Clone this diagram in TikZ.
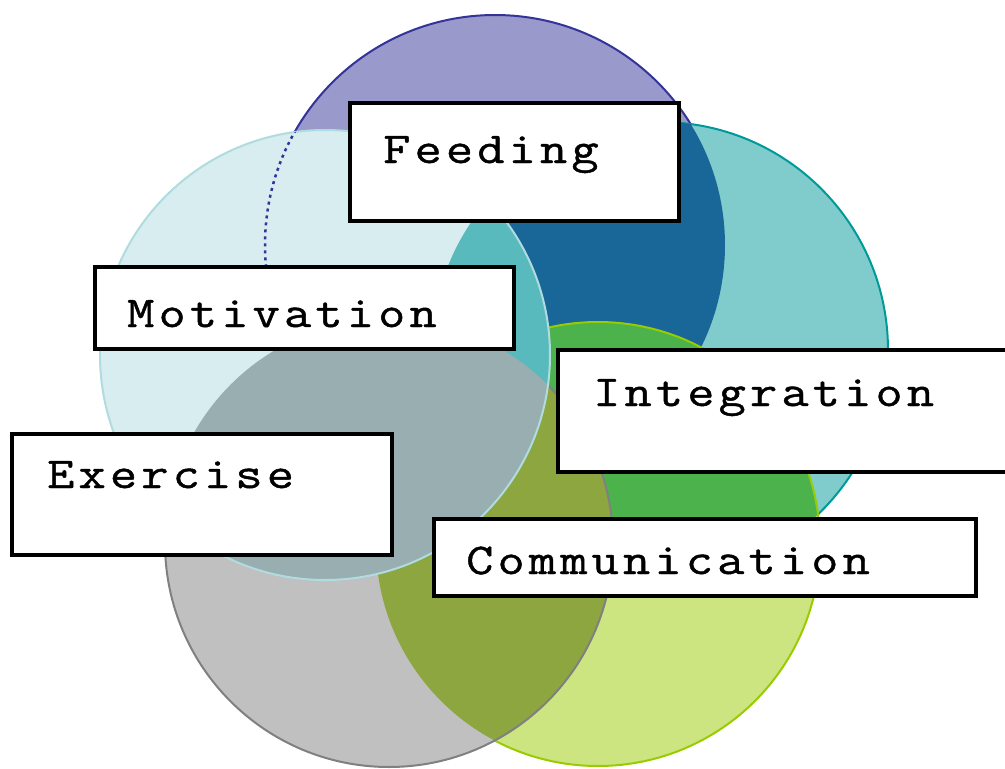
\documentclass[tikz,border=0pt]{standalone}
\usepackage{fontspec}
\newfontfamily\labelfont[FakeStretch=1.2,FakeBold=1,LetterSpace=9.5]{Latin Modern Mono}
\usepackage{tikz}

\definecolor{feedblue}{RGB}{51,51,153}
\definecolor{motblue}{RGB}{176,220,224}
\definecolor{intteal}{RGB}{0,153,153}
\definecolor{exegray}{RGB}{128,128,128}
\definecolor{comgreen}{RGB}{153,204,0}

\begin{document}
\begin{tikzpicture}[x=1pt,y=-1pt,
  ring/.style={line width=2pt},
  box/.style={draw,fill=white,line width=4pt,inner sep=0pt,outer sep=0pt,anchor=north west},
  boxtext/.style={anchor=base west,inner sep=0pt,font=\labelfont\fontsize{44}{44}\selectfont}]
\useasboundingbox (0,0) rectangle (1005,769);

% centres of the five discs
\coordinate (feed) at (495,245);
\coordinate (mot)  at (325,355);
\coordinate (int)  at (660,350);
\coordinate (exe)  at (389,543);
\coordinate (com)  at (598,544);

% feeding lies underneath everything
\fill[feedblue!50!white] (feed) circle (230pt);
\draw[ring,feedblue] (feed) circle (230pt);

\fill[intteal!50!white] (int) circle (228pt);
\draw[ring,intteal] (int) circle (228pt);
\fill[comgreen!50!white] (com) circle (222pt);

\begin{scope} \clip (feed) circle (230pt); \fill[feedblue!50!intteal] (int) circle (228pt); \end{scope}
\begin{scope} \clip (int) circle (228pt);  \fill[intteal!50!comgreen] (com) circle (222pt); \end{scope}
\draw[ring,comgreen] (com) circle (222pt);

\fill[exegray!50!white] (exe) circle (224pt);
\begin{scope} \clip (exe) circle (224pt);  \fill[exegray!50!comgreen] (com) circle (222pt); \end{scope}
\draw[ring,exegray] (exe) circle (224pt);

% motivation sits on top
\fill[motblue!50!white] (mot) circle (225pt);
\begin{scope} \clip (mot) circle (225pt);  \fill[motblue!50!intteal] (int) circle (228pt); \end{scope}
\begin{scope} \clip (mot) circle (225pt);  \fill[motblue!50!exegray] (exe) circle (224pt); \end{scope}
\draw[ring,motblue] (mot) circle (225pt);

% edge of feeding seen through motivation
\begin{scope}
  \clip (mot) circle (225pt);
  \clip (0,0) rectangle (1005,266);
  \draw[feedblue,line width=2.5pt,dash pattern=on 3pt off 4pt] (feed) circle (230pt);
\end{scope}

% labels
\node[box,minimum width=329pt,minimum height=118pt] (feedbox) at (350,103) {};
\node[boxtext] (feedlbl) at (383,163) {Feeding};

\node[box,minimum width=419pt,minimum height=82pt] (motbox) at (95,267) {};
\node[boxtext] (motlbl) at (127,327) {Motivation};

\node[box,minimum width=460pt,minimum height=122pt] (intbox) at (558,350) {};
\node[boxtext] (intlbl) at (593,406) {Integration};

\node[box,minimum width=380pt,minimum height=121pt] (exebox) at (12,434) {};
\node[boxtext] (exelbl) at (47,488) {Exercise};

\node[box,minimum width=542pt,minimum height=77pt] (combox) at (434,519) {};
\node[boxtext] (comlbl) at (466,574) {Communication};
\end{tikzpicture}
\end{document}
